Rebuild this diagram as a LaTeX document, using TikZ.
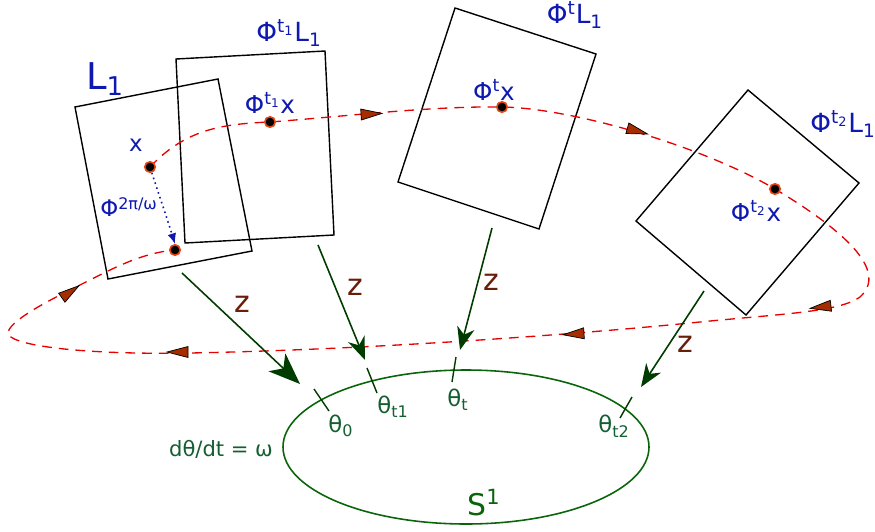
\documentclass[tikz,border=0pt]{standalone}
\usepackage{fontspec}
\setmainfont{DejaVu Sans}
\usetikzlibrary{arrows.meta, positioning}
\definecolor{labelblue}{RGB}{15,25,175}
\definecolor{flowred}{RGB}{230,0,0}
\definecolor{tipbrown}{RGB}{165,45,0}
\definecolor{ringred}{RGB}{235,70,20}
\definecolor{zgreen}{RGB}{0,60,0}
\definecolor{circgreen}{RGB}{10,100,10}
\definecolor{thetagreen}{RGB}{20,95,50}
\definecolor{zbrown}{RGB}{105,30,10}

\begin{document}
\begin{tikzpicture}[x=0.02cm, y=-0.02cm,
    frame/.style={draw=black, line width=0.8pt},
    orbit/.style={draw=flowred, line width=0.75pt, dash pattern=on 5.5pt off 4pt},
    flowtip/.style={fill=tipbrown, draw=black, line width=0.4pt},
    orbpt/.style={circle, fill=black, draw=ringred, line width=0.9pt, inner sep=0pt, minimum size=6pt},
    bluelbl/.style={text=labelblue, font=\fontsize{14}{16}\selectfont, inner sep=0pt},
    sectlbl/.style={bluelbl, font=\fontsize{15}{17}\selectfont},
    zlbl/.style={text=zbrown, font=\fontsize{17}{19}\selectfont, inner sep=0pt},
    thlbl/.style={text=thetagreen, font=\fontsize{13}{15}\selectfont, inner sep=0pt},
    zarrow/.style={draw=zgreen, line width=0.9pt, -{Stealth[length=13pt, width=10pt, inset=4pt]}},
    tick/.style={draw=zgreen, line width=0.8pt}
]
    \useasboundingbox (0,0) rectangle (875,531);

    % Local sections
    \draw[frame] (75,107) -- (218,79) -- (252,251) -- (108,279) -- cycle;
    \draw[frame] (176,59) -- (325,51) -- (334,235) -- (185,243) -- cycle;
    \draw[frame] (455,8) -- (596,54) -- (539,229) -- (398,182) -- cycle;
    \draw[frame] (748,90) -- (859,183) -- (746,315) -- (636,221) -- cycle;

    % Section labels
    \node[bluelbl, font=\fontsize{21}{23}\selectfont] (lblL) at (105,79) {L\textsubscript{1}};
    \node[sectlbl] (lblLa) at (289,33) {Φ\textsuperscript{t\textsubscript{1}}L\textsubscript{1}};
    \node[sectlbl] (lblLt) at (575,15) {Φ\textsuperscript{t}L\textsubscript{1}};
    \node[sectlbl] (lblLb) at (843,124) {Φ\textsuperscript{t\textsubscript{2}}L\textsubscript{1}};

    % Points on the orbit
    \coordinate (ptx) at (150,167);
    \coordinate (pta) at (270,122);
    \coordinate (ptt) at (502,107);
    \coordinate (ptb) at (775,189);
    \coordinate (ptr) at (175,250);

    % Orbit
    \draw[orbit] (ptx) .. controls (185,130) and (220,124) .. (pta)
        .. controls (350,116) and (430,106) .. (ptt)
        .. controls (570,108) and (700,145) .. (ptb)
        .. controls (840,228) and (890,270) .. (860,297)
        .. controls (840,312) and (780,314) .. (700,322)
        .. controls (550,337) and (350,350) .. (190,353)
        .. controls (80,355) and (5,345) .. (8,332)
        .. controls (12,318) and (60,295) .. (80,285)
        .. controls (110,270) and (140,253) .. (ptr);
    \foreach \px/\py/\ang in {371/114/3, 637/131/-16, 821/307/187, 574/334/184, 178/352/180, 70/292/35}
        \filldraw[flowtip, shift={(\px,\py)}, rotate=\ang] (11,0) -- (-10,5.5) -- (-10,-5.5) -- cycle;
    \foreach \p in {ptx, pta, ptt, ptb, ptr}
        \node[orbpt] (dot-\p) at (\p) {};

    % Point labels
    \node[bluelbl, font=\fontsize{13}{15}\selectfont] (lblx) at (136,145) {x};
    \node[bluelbl] (lbla) at (270,103) {Φ\textsuperscript{t\textsubscript{1}}x};
    \node[bluelbl] (lblt) at (494,90) {Φ\textsuperscript{t}x};
    \node[bluelbl] (lblb) at (756,211) {Φ\textsuperscript{t\textsubscript{2}}x};

    % Return map
    \draw[labelblue, line width=0.9pt, dotted, -{Latex[length=6pt, width=5pt]}]
        (dot-ptx) .. controls (158,192) and (166,215) .. (dot-ptr.north);
    \node[bluelbl, font=\fontsize{13}{15}\selectfont] (lblret) at (129,207) {Φ\textsuperscript{2π/ω}};

    % Circle S^1
    \draw[circgreen, line width=0.9pt] (466,447) ellipse [x radius=183, y radius=77];
    \node[text=circgreen, font=\fontsize{17}{19}\selectfont, inner sep=0pt] (lblS) at (484,503) {S\textsuperscript{1}};
    \node[thlbl, font=\fontsize{12}{14}\selectfont] (lblrate) at (221,449) {dθ/dt = ω};

    % Ticks and angles
    \draw[tick] (314,389) -- (329,411);
    \draw[tick] (367,368) -- (377,393);
    \draw[tick] (456,357) -- (452,382);
    \draw[tick] (632,397) -- (620,418);
    \node[thlbl] (th0) at (341,426) {θ\textsubscript{0}};
    \node[thlbl] (th1) at (393,407) {θ\textsubscript{t1}};
    \node[thlbl] (tht) at (458,400) {θ\textsubscript{t}};
    \node[thlbl] (th2) at (614,426) {θ\textsubscript{t2}};

    % Projections z
    \coordinate (z0s) at (182,273);
    \coordinate (z0e) at (300,384);
    \coordinate (z1s) at (318,245);
    \coordinate (z1e) at (365,360);
    \coordinate (zts) at (492,228);
    \coordinate (zte) at (460,350);
    \coordinate (z2s) at (704,291);
    \coordinate (z2e) at (641,387);
    \draw[zarrow, -{Stealth[length=18pt, width=14pt, inset=5pt]}] (z0s) -- (z0e);
    \draw[zarrow] (z1s) -- (z1e);
    \draw[zarrow] (zts) -- (zte);
    \draw[zarrow] (z2s) -- (z2e);
    \node[zlbl] (lz0) at (242,304) {z};
    \node[zlbl] (lz1) at (355,287) {z};
    \node[zlbl] (lzt) at (491,282) {z};
    \node[zlbl] (lz2) at (685,344) {z};
\end{tikzpicture}
\end{document}
